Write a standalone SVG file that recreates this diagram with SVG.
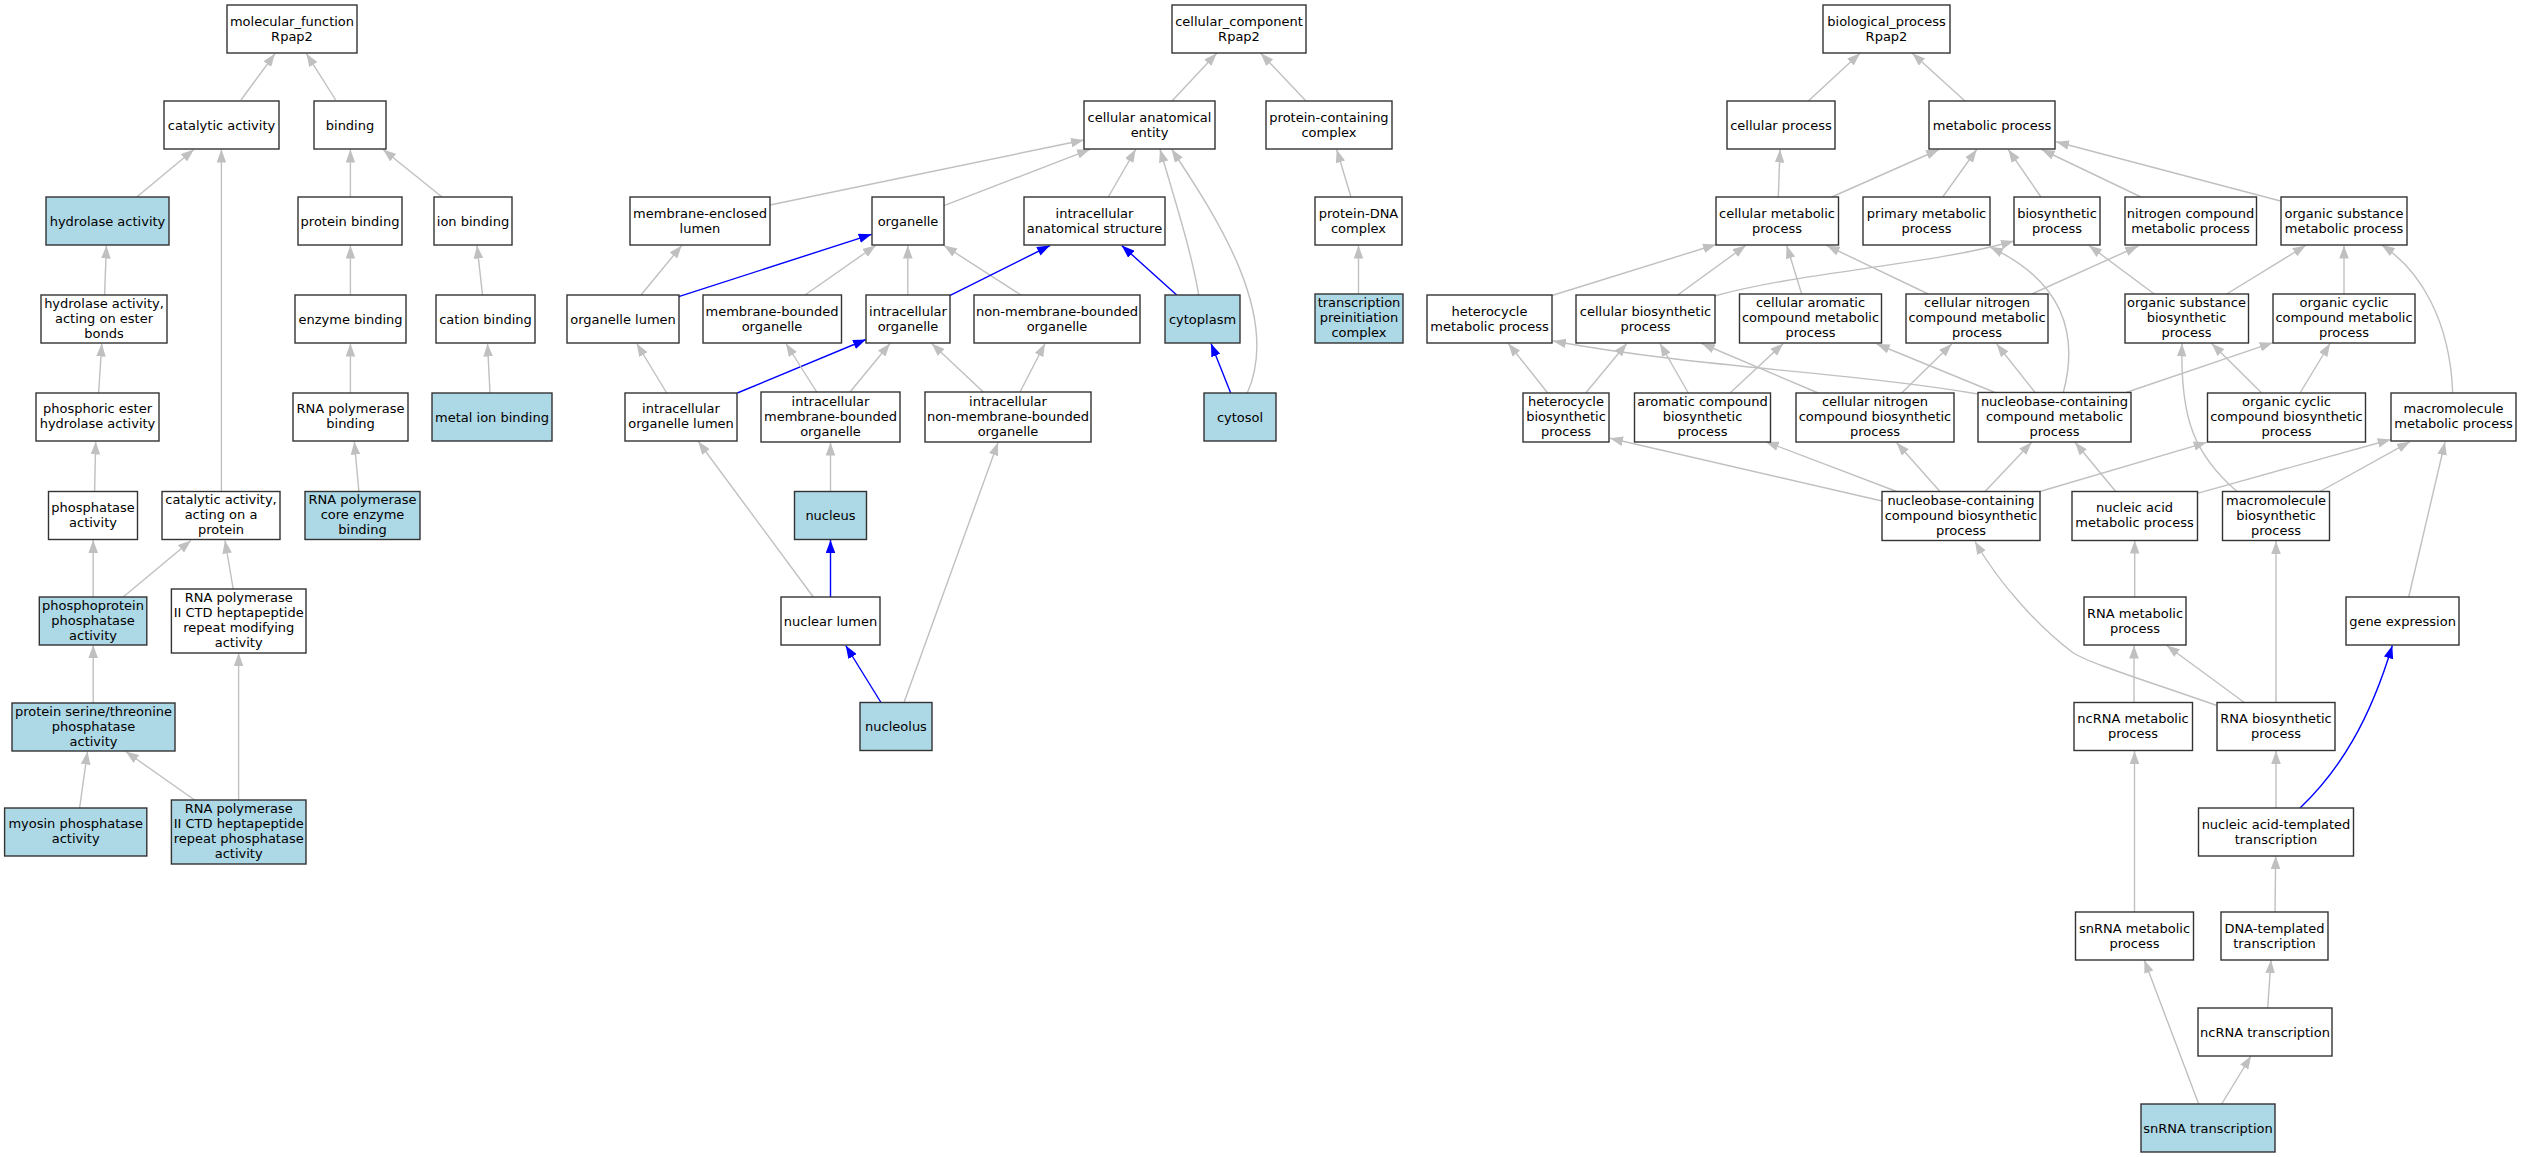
<svg xmlns="http://www.w3.org/2000/svg" width="2521" height="1157" viewBox="0 0 2521 1157">
<style>
.n rect{fill:#ffffff;stroke:#333333;stroke-width:1.4}
.b rect{fill:#add8e6}
text{font-family:"DejaVu Sans","Noto Sans",sans-serif;font-size:13px;text-anchor:middle;fill:#000000}
#edges path{fill:none;stroke:#c0c0c0;stroke-width:1.4;marker-end:url(#ag)}
#edges path.bl{stroke:#0000ff;marker-end:url(#ab)}
</style>
<defs>
<marker id="ag" markerUnits="userSpaceOnUse" markerWidth="13" markerHeight="9.6" viewBox="0 0 13 9.6" refX="13" refY="4.8" orient="auto"><path d="M0,0 L13,4.8 L0,9.6 z" fill="#c0c0c0"/></marker>
<marker id="ab" markerUnits="userSpaceOnUse" markerWidth="13" markerHeight="9.6" viewBox="0 0 13 9.6" refX="13" refY="4.8" orient="auto"><path d="M0,0 L13,4.8 L0,9.6 z" fill="#0000ff"/></marker>
</defs>
<rect x="0" y="0" width="2521" height="1157" fill="#ffffff"/>
<g id="edges">
<path d="M241,100 L275,53.6"/>
<path d="M335.7,100 L306.4,53.6"/>
<path d="M136.8,197 L193.9,149.5"/>
<path d="M221.4,491 L221.4,149.5"/>
<path d="M350.4,197 L350.4,149.5"/>
<path d="M442,197 L383,149.5"/>
<path d="M104.6,295 L106.4,245.5"/>
<path d="M350.4,295 L350.4,245.5"/>
<path d="M482.5,295 L477,245.5"/>
<path d="M98.6,393 L101.8,343.5"/>
<path d="M350.4,393 L350.4,343.5"/>
<path d="M490,393 L487.5,343.5"/>
<path d="M94.6,491.5 L95.7,441.5"/>
<path d="M358.9,491.5 L354.3,441.5"/>
<path d="M93.2,597 L93.2,540"/>
<path d="M123.2,597 L191,540.5"/>
<path d="M233.2,589 L225,540.5"/>
<path d="M93.2,703 L93.2,645"/>
<path d="M79.6,808 L87.5,751.5"/>
<path d="M194.6,800 L125.7,751.5"/>
<path d="M238.6,800 L238.6,653"/>
<path d="M1172,101 L1216.7,53.3"/>
<path d="M1306,101 L1260.7,53.3"/>
<path d="M770,205 L1084,140"/>
<path d="M944,205.7 L1090,149.3"/>
<path d="M1108.3,197 L1135.7,149.3"/>
<path d="M1198.7,295 C1192,255 1178,210 1160,149.3"/>
<path d="M1247.3,393 C1282,315 1215,215 1171.7,149.3"/>
<path d="M641,295 L681.7,245.5"/>
<path class="bl" d="M678.7,296.7 L871.7,234.3"/>
<path d="M805,295 L875.7,245.5"/>
<path d="M907.8,295 L907.8,245.5"/>
<path d="M1021,295 L944,245.5"/>
<path class="bl" d="M949.7,295.7 L1050,245.5"/>
<path class="bl" d="M1176.7,295 L1121.7,245.5"/>
<path d="M1358.5,294 L1358.5,245.5"/>
<path d="M1351,197 L1336.7,149.5"/>
<path d="M666.7,393 L636.7,343.5"/>
<path class="bl" d="M737.3,393 L866,339.5"/>
<path d="M816.7,392 L786,343.5"/>
<path d="M850,392 L890,343.5"/>
<path d="M983.3,392 L931.7,343.5"/>
<path d="M1020,392 L1045,343.5"/>
<path class="bl" d="M1230.7,393 L1211,343.5"/>
<path d="M830.5,491.5 L830.5,442.5"/>
<path class="bl" d="M830.5,597 L830.5,540"/>
<path d="M813.3,597 L698.3,441.5"/>
<path class="bl" d="M881,702.5 L845.7,645.5"/>
<path d="M904,702.5 L998,442.5"/>
<path d="M1808.3,101 L1860,53.3"/>
<path d="M1965,101 L1912.3,53.3"/>
<path d="M1778.3,197 L1780,149.5"/>
<path d="M1831.7,197 L1939,149.5"/>
<path d="M1942.7,197 L1976.7,149.5"/>
<path d="M2041,197 L2008.3,149.5"/>
<path d="M2141,197 L2041.7,149.5"/>
<path d="M2280.5,201 L2056,141.7"/>
<path d="M1552,295.5 L1716,244.5"/>
<path d="M1677.7,295 L1745.7,245.5"/>
<path d="M1714.7,296 C1800,272 1930,265 2014,241"/>
<path d="M2063.3,392.5 C2080,330 2060,280 1990,247"/>
<path d="M1801.7,294 L1786.7,245.5"/>
<path d="M1928.3,294 L1826.7,245.5"/>
<path d="M2031.7,294 L2138.3,246"/>
<path d="M2154.3,294 L2089,245.5"/>
<path d="M2226.7,294 L2305.7,245.5"/>
<path d="M2344,294 L2344,245.5"/>
<path d="M2452.7,393 C2450,320 2420,270 2381.7,245"/>
<path d="M1547.7,393 L1508.3,343.5"/>
<path d="M1585.7,393 L1626.7,343.5"/>
<path d="M1688.3,393 L1660,343.5"/>
<path d="M1730,393 L1783.3,343.5"/>
<path d="M1818.3,393 L1701.7,343.5"/>
<path d="M1901.7,393 L1951.7,344"/>
<path d="M1978,394 C1850,372 1700,368 1553,341"/>
<path d="M1995,392.5 L1876.7,344"/>
<path d="M2035,392.5 L1996.7,344"/>
<path d="M2126,392.5 L2272.7,342.7"/>
<path d="M2261.7,393 L2211.7,343.5"/>
<path d="M2300,393 L2330,343.5"/>
<path d="M1882,501 L1610,438.3"/>
<path d="M1896.7,491.5 L1765.7,441.7"/>
<path d="M1940,491.5 L1896.7,442.7"/>
<path d="M1985,491.5 L2031.7,442.3"/>
<path d="M2040,491.5 L2206.7,442.3"/>
<path d="M2115.7,491.5 L2075,442.3"/>
<path d="M2197.3,493.3 L2390.7,439.5"/>
<path d="M2237,491.5 C2195,455 2180,420 2182,343.5"/>
<path d="M2320,491.5 L2410,441.7"/>
<path d="M2408.7,597 L2445,442"/>
<path d="M2134.7,597 L2134.7,540.5"/>
<path d="M2276,702.5 L2276,541"/>
<path d="M2244.3,702.5 L2166.7,645.5"/>
<path d="M2216.7,705.5 C2150,682 2085,662 2072,652 C2040,628 2000,585 1975,541.5"/>
<path d="M2134,702.5 L2134,645.5"/>
<path d="M2276,808 L2276,751"/>
<path class="bl" d="M2300,808 C2340,770 2370,720 2392.3,645.5"/>
<path d="M2134.5,912 L2134.5,751"/>
<path d="M2275,912 L2275.7,856"/>
<path d="M2267.7,1008 L2271,960"/>
<path d="M2198.7,1104 L2144.3,960"/>
<path d="M2221.7,1104 L2251,1056"/>
</g>
<g id="n_mf" class="n"><rect x="227" y="5" width="130" height="48"/><text x="292" y="25.5">molecular_function</text><text x="292" y="40.5">Rpap2</text></g>
<g id="n_catalytic" class="n"><rect x="164" y="101" width="115" height="48"/><text x="221.5" y="129.5">catalytic activity</text></g>
<g id="n_binding" class="n"><rect x="314" y="101" width="72" height="48"/><text x="350" y="129.5">binding</text></g>
<g id="n_hydrolase" class="n b"><rect x="46" y="197" width="123" height="48"/><text x="107.5" y="225.5">hydrolase activity</text></g>
<g id="n_protbind" class="n"><rect x="298" y="197" width="104" height="48"/><text x="350" y="225.5">protein binding</text></g>
<g id="n_ionbind" class="n"><rect x="434" y="197" width="78" height="48"/><text x="473" y="225.5">ion binding</text></g>
<g id="n_ester" class="n"><rect x="41" y="295" width="126" height="48"/><text x="104" y="307.5">hydrolase activity,</text><text x="104" y="322.5">acting on ester</text><text x="104" y="337.5">bonds</text></g>
<g id="n_enzbind" class="n"><rect x="295" y="295" width="111" height="48"/><text x="350.5" y="323.5">enzyme binding</text></g>
<g id="n_cation" class="n"><rect x="436" y="295" width="99" height="48"/><text x="485.5" y="323.5">cation binding</text></g>
<g id="n_phosester" class="n"><rect x="36" y="393" width="123" height="48"/><text x="97.5" y="413">phosphoric ester</text><text x="97.5" y="428">hydrolase activity</text></g>
<g id="n_rnapolbind" class="n"><rect x="293" y="393" width="115" height="48"/><text x="350.5" y="413">RNA polymerase</text><text x="350.5" y="428">binding</text></g>
<g id="n_metalion" class="n b"><rect x="432" y="393" width="120" height="48"/><text x="492" y="421.5">metal ion binding</text></g>
<g id="n_phosphatase" class="n"><rect x="48.5" y="491.5" width="89" height="48"/><text x="93" y="511.5">phosphatase</text><text x="93" y="526.5">activity</text></g>
<g id="n_catprot" class="n"><rect x="162" y="491.5" width="118" height="48"/><text x="221" y="504">catalytic activity,</text><text x="221" y="519">acting on a</text><text x="221" y="534">protein</text></g>
<g id="n_rnapolcore" class="n b"><rect x="305" y="491.5" width="115" height="48"/><text x="362.5" y="504">RNA polymerase</text><text x="362.5" y="519">core enzyme</text><text x="362.5" y="534">binding</text></g>
<g id="n_phosprot" class="n b"><rect x="39.3" y="597" width="107.5" height="48"/><text x="93" y="609.5">phosphoprotein</text><text x="93" y="624.5">phosphatase</text><text x="93" y="639.5">activity</text></g>
<g id="n_ctdmod" class="n"><rect x="171.4" y="589" width="134.6" height="64"/><text x="238.7" y="602">RNA polymerase</text><text x="238.7" y="617">II CTD heptapeptide</text><text x="238.7" y="632">repeat modifying</text><text x="238.7" y="647">activity</text></g>
<g id="n_serthr" class="n b"><rect x="12" y="703" width="163" height="48"/><text x="93.5" y="715.5">protein serine/threonine</text><text x="93.5" y="730.5">phosphatase</text><text x="93.5" y="745.5">activity</text></g>
<g id="n_myosin" class="n b"><rect x="4.6" y="808" width="142.2" height="48"/><text x="75.7" y="828">myosin phosphatase</text><text x="75.7" y="843">activity</text></g>
<g id="n_ctdphos" class="n b"><rect x="171.4" y="800" width="134.6" height="64"/><text x="238.7" y="813">RNA polymerase</text><text x="238.7" y="828">II CTD heptapeptide</text><text x="238.7" y="843">repeat phosphatase</text><text x="238.7" y="858">activity</text></g>
<g id="n_cc" class="n"><rect x="1172" y="5" width="134" height="48"/><text x="1239" y="25.5">cellular_component</text><text x="1239" y="40.5">Rpap2</text></g>
<g id="n_cae" class="n"><rect x="1084" y="101" width="131" height="48"/><text x="1149.5" y="121.5">cellular anatomical</text><text x="1149.5" y="136.5">entity</text></g>
<g id="n_pcc" class="n"><rect x="1266" y="101" width="126" height="48"/><text x="1329" y="121.5">protein-containing</text><text x="1329" y="136.5">complex</text></g>
<g id="n_mel" class="n"><rect x="630" y="197" width="140" height="48"/><text x="700" y="217.5">membrane-enclosed</text><text x="700" y="232.5">lumen</text></g>
<g id="n_organelle" class="n"><rect x="872" y="197" width="72" height="48"/><text x="908" y="225.5">organelle</text></g>
<g id="n_ias" class="n"><rect x="1024" y="197" width="141" height="48"/><text x="1094.5" y="217.5">intracellular</text><text x="1094.5" y="232.5">anatomical structure</text></g>
<g id="n_pdna" class="n"><rect x="1315" y="197" width="87" height="48"/><text x="1358.5" y="217.5">protein-DNA</text><text x="1358.5" y="232.5">complex</text></g>
<g id="n_olumen" class="n"><rect x="567" y="295" width="112" height="48"/><text x="623" y="323.5">organelle lumen</text></g>
<g id="n_mbo" class="n"><rect x="703" y="295" width="138.5" height="48"/><text x="772" y="315.5">membrane-bounded</text><text x="772" y="330.5">organelle</text></g>
<g id="n_io" class="n"><rect x="866" y="295" width="84" height="48"/><text x="908" y="315.5">intracellular</text><text x="908" y="330.5">organelle</text></g>
<g id="n_nmbo" class="n"><rect x="974" y="295" width="166" height="48"/><text x="1057" y="315.5">non-membrane-bounded</text><text x="1057" y="330.5">organelle</text></g>
<g id="n_cytoplasm" class="n b"><rect x="1165" y="295" width="75" height="48"/><text x="1202.5" y="323.5">cytoplasm</text></g>
<g id="n_tpc" class="n b"><rect x="1315" y="294" width="88" height="49"/><text x="1359" y="307">transcription</text><text x="1359" y="322">preinitiation</text><text x="1359" y="337">complex</text></g>
<g id="n_iolumen" class="n"><rect x="625" y="393" width="112" height="48"/><text x="681" y="413">intracellular</text><text x="681" y="428">organelle lumen</text></g>
<g id="n_imbo" class="n"><rect x="761" y="392" width="139" height="50"/><text x="830.5" y="405.5">intracellular</text><text x="830.5" y="420.5">membrane-bounded</text><text x="830.5" y="435.5">organelle</text></g>
<g id="n_inmbo" class="n"><rect x="925" y="392" width="166" height="50"/><text x="1008" y="405.5">intracellular</text><text x="1008" y="420.5">non-membrane-bounded</text><text x="1008" y="435.5">organelle</text></g>
<g id="n_cytosol" class="n b"><rect x="1204" y="393" width="72" height="48"/><text x="1240" y="421.5">cytosol</text></g>
<g id="n_nucleus" class="n b"><rect x="794.5" y="491.5" width="72" height="48"/><text x="830.5" y="520">nucleus</text></g>
<g id="n_nlumen" class="n"><rect x="781" y="597" width="99" height="48"/><text x="830.5" y="625.5">nuclear lumen</text></g>
<g id="n_nucleolus" class="n b"><rect x="860" y="702.5" width="72" height="48"/><text x="896" y="731">nucleolus</text></g>
<g id="n_bp" class="n"><rect x="1823" y="5" width="127" height="48"/><text x="1886.5" y="25.5">biological_process</text><text x="1886.5" y="40.5">Rpap2</text></g>
<g id="n_cellproc" class="n"><rect x="1727" y="101" width="108" height="48"/><text x="1781" y="129.5">cellular process</text></g>
<g id="n_metproc" class="n"><rect x="1929" y="101" width="126" height="48"/><text x="1992" y="129.5">metabolic process</text></g>
<g id="n_cellmet" class="n"><rect x="1716" y="197" width="122.5" height="48"/><text x="1777" y="217.5">cellular metabolic</text><text x="1777" y="232.5">process</text></g>
<g id="n_primmet" class="n"><rect x="1863" y="197" width="127" height="48"/><text x="1926.5" y="217.5">primary metabolic</text><text x="1926.5" y="232.5">process</text></g>
<g id="n_biosyn" class="n"><rect x="2014" y="197" width="86" height="48"/><text x="2057" y="217.5">biosynthetic</text><text x="2057" y="232.5">process</text></g>
<g id="n_nitmet" class="n"><rect x="2125" y="197" width="131.5" height="48"/><text x="2190.5" y="217.5">nitrogen compound</text><text x="2190.5" y="232.5">metabolic process</text></g>
<g id="n_orgsubmet" class="n"><rect x="2281" y="197" width="126" height="48"/><text x="2344" y="217.5">organic substance</text><text x="2344" y="232.5">metabolic process</text></g>
<g id="n_hetmet" class="n"><rect x="1427" y="295" width="125" height="48"/><text x="1489.5" y="315.5">heterocycle</text><text x="1489.5" y="330.5">metabolic process</text></g>
<g id="n_cellbiosyn" class="n"><rect x="1576" y="295" width="139" height="48"/><text x="1645.5" y="315.5">cellular biosynthetic</text><text x="1645.5" y="330.5">process</text></g>
<g id="n_cellarom" class="n"><rect x="1739.5" y="294" width="142" height="49"/><text x="1810.5" y="307">cellular aromatic</text><text x="1810.5" y="322">compound metabolic</text><text x="1810.5" y="337">process</text></g>
<g id="n_cellnitmet" class="n"><rect x="1906" y="294" width="142" height="49"/><text x="1977" y="307">cellular nitrogen</text><text x="1977" y="322">compound metabolic</text><text x="1977" y="337">process</text></g>
<g id="n_orgsubbio" class="n"><rect x="2125" y="294" width="123.5" height="49"/><text x="2186.5" y="307">organic substance</text><text x="2186.5" y="322">biosynthetic</text><text x="2186.5" y="337">process</text></g>
<g id="n_orgcycmet" class="n"><rect x="2273" y="294" width="142" height="49"/><text x="2344" y="307">organic cyclic</text><text x="2344" y="322">compound metabolic</text><text x="2344" y="337">process</text></g>
<g id="n_hetbio" class="n"><rect x="1523" y="393" width="86" height="49"/><text x="1566" y="406">heterocycle</text><text x="1566" y="421">biosynthetic</text><text x="1566" y="436">process</text></g>
<g id="n_arombio" class="n"><rect x="1634.5" y="393" width="136" height="49"/><text x="1702.5" y="406">aromatic compound</text><text x="1702.5" y="421">biosynthetic</text><text x="1702.5" y="436">process</text></g>
<g id="n_cellnitbio" class="n"><rect x="1796" y="393" width="158" height="49"/><text x="1875" y="406">cellular nitrogen</text><text x="1875" y="421">compound biosynthetic</text><text x="1875" y="436">process</text></g>
<g id="n_nucmet" class="n"><rect x="1978" y="392.5" width="153" height="49.5"/><text x="2054.5" y="406">nucleobase-containing</text><text x="2054.5" y="421">compound metabolic</text><text x="2054.5" y="436">process</text></g>
<g id="n_orgcycbio" class="n"><rect x="2207.5" y="393" width="158" height="49"/><text x="2286.5" y="406">organic cyclic</text><text x="2286.5" y="421">compound biosynthetic</text><text x="2286.5" y="436">process</text></g>
<g id="n_macmet" class="n"><rect x="2391" y="393" width="125" height="48"/><text x="2453.5" y="413">macromolecule</text><text x="2453.5" y="428">metabolic process</text></g>
<g id="n_nucbio" class="n"><rect x="1882" y="491.5" width="158" height="49"/><text x="1961" y="504.5">nucleobase-containing</text><text x="1961" y="519.5">compound biosynthetic</text><text x="1961" y="534.5">process</text></g>
<g id="n_nacmet" class="n"><rect x="2072" y="491.5" width="125.5" height="49"/><text x="2134.5" y="512">nucleic acid</text><text x="2134.5" y="527">metabolic process</text></g>
<g id="n_macbio" class="n"><rect x="2222.5" y="491.5" width="107" height="49"/><text x="2276" y="504.5">macromolecule</text><text x="2276" y="519.5">biosynthetic</text><text x="2276" y="534.5">process</text></g>
<g id="n_rnamet" class="n"><rect x="2084" y="597" width="102" height="48"/><text x="2135" y="617.5">RNA metabolic</text><text x="2135" y="632.5">process</text></g>
<g id="n_geneexp" class="n"><rect x="2346" y="597" width="113" height="48"/><text x="2402.5" y="625.5">gene expression</text></g>
<g id="n_ncrnamet" class="n"><rect x="2074" y="702.5" width="118.5" height="48"/><text x="2133" y="723">ncRNA metabolic</text><text x="2133" y="738">process</text></g>
<g id="n_rnabio" class="n"><rect x="2217" y="702.5" width="118" height="48"/><text x="2276" y="723">RNA biosynthetic</text><text x="2276" y="738">process</text></g>
<g id="n_natt" class="n"><rect x="2198.5" y="808" width="155" height="48"/><text x="2276" y="828.5">nucleic acid-templated</text><text x="2276" y="843.5">transcription</text></g>
<g id="n_snrnamet" class="n"><rect x="2075.5" y="912" width="118" height="48"/><text x="2134.5" y="932.5">snRNA metabolic</text><text x="2134.5" y="947.5">process</text></g>
<g id="n_dnatt" class="n"><rect x="2221" y="912" width="107" height="48"/><text x="2274.5" y="932.5">DNA-templated</text><text x="2274.5" y="947.5">transcription</text></g>
<g id="n_ncrnatr" class="n"><rect x="2198" y="1008" width="134" height="48"/><text x="2265" y="1036.5">ncRNA transcription</text></g>
<g id="n_snrnatr" class="n b"><rect x="2141" y="1104" width="134" height="48"/><text x="2208" y="1132.5">snRNA transcription</text></g>
</svg>
